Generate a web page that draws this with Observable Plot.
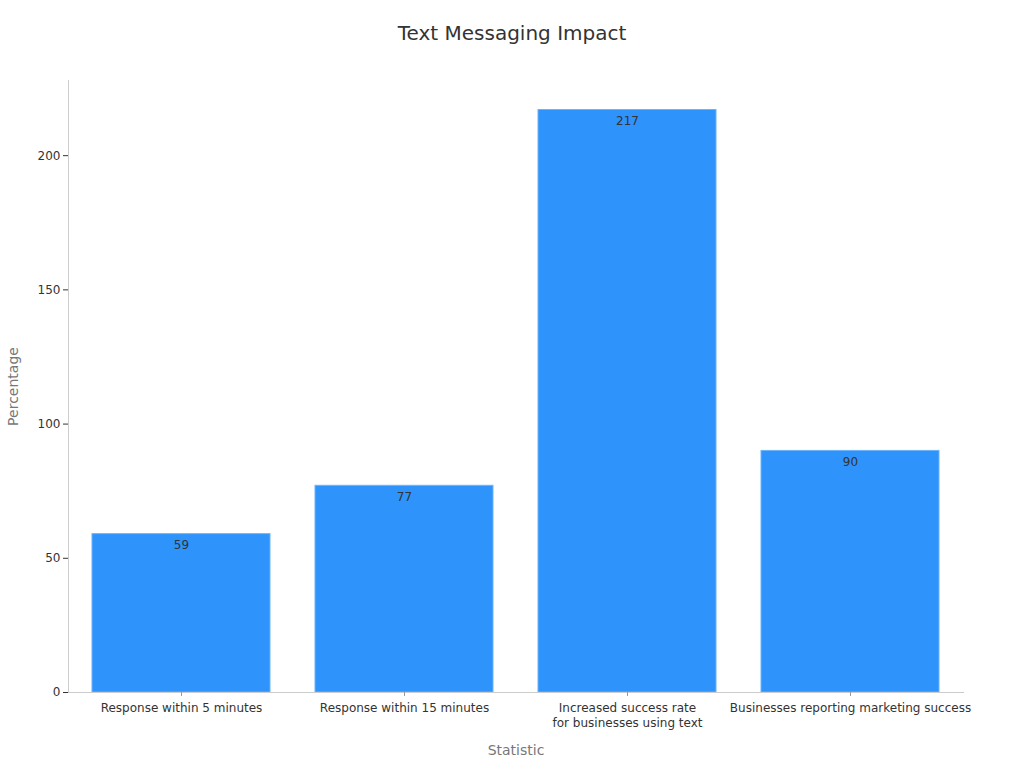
<!DOCTYPE html>
<html>
<head>
<meta charset="utf-8">
<script src="https://cdn.jsdelivr.net/npm/d3@7"></script>
<script src="https://cdn.jsdelivr.net/npm/@observablehq/plot@0.6"></script>
<style>
  body { margin: 0; background: #fff; font-family: "DejaVu Sans", sans-serif; }
  #wrap { position: relative; width: 1024px; height: 768px; }
  #title { position: absolute; top: 21px; left: 0; width: 1024px; text-align: center; font-size: 20px; color: #333; }
  #chart { position: absolute; top: 0; left: 0; }
</style>
</head>
<body>
<div id="wrap">
  <div id="chart"></div>
  <div id="title">Text Messaging Impact</div>
</div>
<script>
const categories = [
  "Response within 5 minutes",
  "Response within 15 minutes",
  "Increased success rate\nfor businesses using text",
  "Businesses reporting marketing success"
];
const values = [59, 77, 217, 90];
const yTicks = [0, 50, 100, 150, 200];

const data = categories.map((c, i) => ({ category: c, value: values[i] }));

const chart = Plot.plot({
  width: 1024,
  height: 768,
  marginTop: 80,
  marginBottom: 76,
  marginLeft: 68,
  marginRight: 61,
  style: { fontFamily: "DejaVu Sans, sans-serif", fontSize: "12px", color: "#333", background: "#fff" },
  x: { domain: categories, paddingInner: 0.2, paddingOuter: 0.1, label: null },
  y: { domain: [0, 228], label: null },
  marks: [
    Plot.barY(data, { x: "category", y: "value", fill: "#2e93fa", stroke: "#6cb3fb", strokeWidth: 1 }),
    Plot.text(data, { x: "category", y: "value", text: d => String(d.value), dy: 11, fill: "#333", fontSize: 12 }),
    Plot.frame({ anchor: "left", stroke: "#ccc" }),
    Plot.frame({ anchor: "bottom", stroke: "#ccc" }),
    Plot.axisY({ ticks: yTicks, tickSize: 5, tickPadding: 3, fontSize: 12, color: "#333", label: null }),
    Plot.axisX({ tickSize: 4, stroke: "#999", tickPadding: 4, fontSize: 12, lineHeight: 1.3, label: null, textStroke: "none" }),
    Plot.text(["Statistic"], { frameAnchor: "bottom", dy: 62, fill: "#777", fontSize: 14 }),
    Plot.text(["Percentage"], { frameAnchor: "left", textAnchor: "middle", dx: -55, rotate: -90, fill: "#777", fontSize: 14 })
  ]
});
document.getElementById("chart").appendChild(chart);
</script>
</body>
</html>
